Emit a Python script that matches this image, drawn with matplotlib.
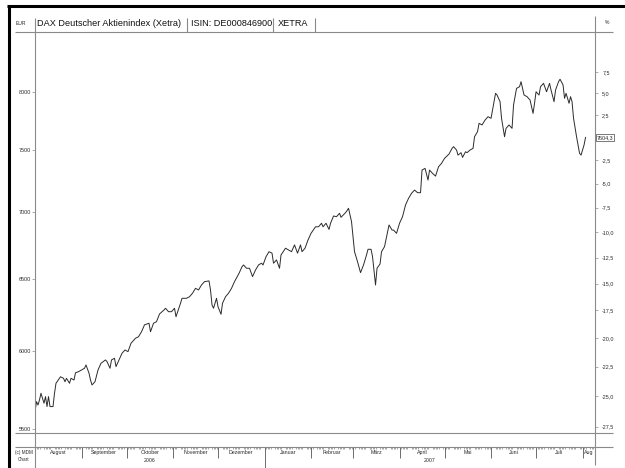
import datetime as dt

import numpy as np
import matplotlib
matplotlib.use("Agg")
import matplotlib.pyplot as plt
import matplotlib.transforms as mtransforms
from matplotlib.lines import Line2D
from matplotlib.ticker import NullLocator

plt.rcParams["font.family"] = ["Liberation Sans", "DejaVu Sans"]

# ---- data ----
START = dt.date(2006, 8, 1)          # day 0 of the x axis
LAST_CLOSE = 7604.3

DAYS_AUG_NOV = [0, 1, 2, 3, 4, 6, 7, 8, 9, 10, 12, 13, 14, 17, 19, 20, 21, 23, 24, 26,
                27, 29, 31, 33, 34, 36, 37, 38, 40, 42, 44, 47, 48, 50, 51, 53, 54, 56, 58, 60,
                62, 64, 67, 69, 71, 73, 76, 77, 79, 81, 83]
CLOSE_AUG_NOV = [5606, 5669, 5648, 5680, 5722, 5659, 5701, 5638, 5701, 5638,
                 5638, 5722, 5786, 5828, 5818, 5796, 5818, 5786, 5818, 5807,
                 5854, 5861, 5872, 5883, 5905, 5851, 5807, 5775, 5796, 5872,
                 5916, 5938, 5927, 5883, 5938, 5949, 5894, 5938, 5982, 6004,
                 5993, 6049, 6083, 6093, 6127, 6174, 6185, 6127, 6185, 6196, 6249]

DAYS_NOV_DEC = [86, 87, 89, 91, 93, 94, 97, 98, 101, 103, 105, 107, 109, 111, 113, 116, 117, 118, 119, 121,
                122, 124, 125, 127, 129, 131, 133, 136, 138, 139, 141, 143, 145, 147, 149, 151, 152, 154, 156]
CLOSE_NOV_DEC = [6277, 6289, 6265, 6265, 6289, 6230, 6324, 6359, 6359, 6370,
                 6395, 6430, 6418, 6454, 6478, 6483, 6418, 6312, 6289, 6359,
                 6300, 6247, 6324, 6370, 6395, 6430, 6478, 6538, 6586, 6599,
                 6575, 6575, 6514, 6562, 6599, 6612, 6599, 6660, 6697]

DAYS_JAN_MAR = [158, 159, 161, 163, 164, 167, 169, 171, 173, 175, 177, 178, 180, 182, 184, 187, 189, 191, 192, 194,
                196, 197, 199, 201, 203, 204, 207, 208, 209, 211, 212, 213, 215, 217, 219, 221, 222, 224, 225, 227,
                228, 230]
CLOSE_JAN_MAR = [6686, 6612, 6636, 6575, 6673, 6723, 6710, 6697, 6748, 6686,
                 6748, 6697, 6723, 6785, 6835, 6885, 6885, 6912, 6885, 6912,
                 6865, 6912, 6968, 6963, 6989, 6958, 6994, 7010, 7028, 6924,
                 6810, 6697, 6623, 6543, 6599, 6673, 6715, 6715, 6660, 6454,
                 6575, 6606]

DAYS_MAR_MAY = [231, 233, 236, 238, 239, 241, 243, 245, 247, 249, 251, 253, 255, 257, 258, 260, 262, 263, 265, 267,
                269, 271, 273, 276, 278, 279, 281, 282, 284, 285, 287, 288, 290, 292, 293, 295, 296]
CLOSE_MAR_MAY = [6697, 6735, 6899, 6860, 6860, 6835, 6912, 6963, 7054, 7106,
                 7146, 7172, 7151, 7151, 7333, 7347, 7252, 7333, 7306, 7284,
                 7360, 7388, 7429, 7465, 7512, 7526, 7498, 7456, 7476, 7437,
                 7484, 7476, 7498, 7512, 7610, 7653, 7724]

DAYS_MAY_AUG = [298, 300, 302, 304, 306, 307, 308, 310, 311, 313, 314, 316, 318, 319, 321, 323, 324, 326, 328, 330,
                331, 332, 333, 334, 336, 337, 339, 341, 343, 344, 346, 347, 349, 350, 352, 353, 354, 356, 357, 358,
                359, 361, 363, 364, 366, 367]
CLOSE_MAY_AUG = [7710, 7752, 7781, 7767, 7912, 7986, 7971, 7912, 7767, 7610,
                 7681, 7710, 7681, 7883, 8030, 8045, 8090, 7971, 7956, 7927,
                 7868, 7810, 7898, 8000, 7971, 8045, 8075, 8000, 8075, 8015,
                 7912, 8015, 8090, 8112, 8060, 7942, 7986, 7898, 7956, 7912,
                 7767, 7610, 7471, 7456, 7540, LAST_CLOSE]

PRICE_TICKS = [5500, 6000, 6500, 7000, 7500, 8000]
PCT_TICKS = [7.5, 5.0, 2.5, -2.5, -5.0, -7.5, -10.0, -12.5, -15.0, -17.5,
             -20.0, -22.5, -25.0, -27.5]
MONTHS = ["August", "September", "Oktober", "November", "Dezember", "Januar",
          "Februar", "M\u00e4rz", "April", "Mai", "Juni", "Juli", "Aug"]
YEARS = ["2006", "2007"]

TITLE = "DAX Deutscher Aktienindex (Xetra)"
ISIN = "ISIN: DE000846900"
EXCHANGE = "XETRA"

# ---- layout (pixels of the 625x468 picture) ----
W, H = 625, 468
X0, X1 = 35, 595          # left / right axis lines
Y_TOP, Y_BOT = 31.7, 433.3
Y_BAND = 446.7
YLIM = (5473, 8552)
XLIM = (0, 373.3)
GREY = "#8a8a8a"
TXT = "#2a2a2a"


def fx(x):
    return x / W


def fy(y):
    return 1 - y / H


def fig_line(fig, xs, ys, color=GREY, lw=0.8):
    fig.add_artist(Line2D([fx(x) for x in xs], [fy(y) for y in ys],
                          transform=fig.transFigure, color=color, lw=lw,
                          solid_capstyle="butt"))


days = DAYS_AUG_NOV + DAYS_NOV_DEC + DAYS_JAN_MAR + DAYS_MAR_MAY + DAYS_MAY_AUG
close = CLOSE_AUG_NOV + CLOSE_NOV_DEC + CLOSE_JAN_MAR + CLOSE_MAR_MAY + CLOSE_MAY_AUG

fig = plt.figure(figsize=(W / 100, H / 100), dpi=100)
fig.patch.set_facecolor("white")

# main price panel
ax = fig.add_axes([fx(X0), fy(Y_BOT), fx(X1) - fx(X0), fy(Y_TOP) - fy(Y_BOT)])
ax.plot(days, close, color="#2b2b2b", lw=0.7)
ax.set_yscale("log")
ax.set_ylim(*YLIM)
ax.set_xlim(*XLIM)
ax.set_yticks(PRICE_TICKS)
ax.set_yticklabels([str(t) for t in PRICE_TICKS])
ax.yaxis.set_minor_locator(NullLocator())
ax.set_xticks([])
ax.tick_params(axis="y", direction="out", length=2, width=0.5, pad=0.6,
               labelsize=3.9, colors=GREY, labelcolor=TXT)
for side in ["top", "bottom"]:
    ax.spines[side].set_visible(False)
for side in ["left", "right"]:
    ax.spines[side].set_color(GREY)
    ax.spines[side].set_linewidth(0.8)

# percent axis relative to the last close
axr = ax.twinx()
axr.set_yscale("log")
axr.set_ylim(*YLIM)
axr.set_yticks([LAST_CLOSE * (1 + p / 100) for p in PCT_TICKS])
axr.set_yticklabels([f"{p:.1f}".replace(".", ",") for p in PCT_TICKS])
axr.yaxis.set_minor_locator(NullLocator())
axr.tick_params(axis="y", direction="out", length=2, width=0.5, pad=3.2,
                labelsize=3.9, colors=GREY, labelcolor=TXT)
for side in axr.spines:
    axr.spines[side].set_visible(False)
trans = mtransforms.blended_transform_factory(axr.transAxes, axr.transData)
axr.text(1.003, LAST_CLOSE, f"{LAST_CLOSE:.1f}".replace(".", ","), transform=trans,
         ha="left", va="center", fontsize=3.9, color=TXT, clip_on=False,
         bbox=dict(boxstyle="square,pad=0.2", fc="white", ec="#444", lw=0.5))

# month / year band
band = fig.add_axes([fx(X0), fy(H), fx(X1) - fx(X0), fy(Y_BAND) - fy(H)])
band.set_xlim(*XLIM)
band.set_ylim(0, 1)
band.axis("off")

month_dates = [dt.date(2006 + (7 + i) // 12, (7 + i) % 12 + 1, 1) for i in range(len(MONTHS))]
month_days = [(d - START).days for d in month_dates]
for d, md in zip(month_dates, month_days):
    if md <= XLIM[0]:
        continue
    lo = 0.0 if d.month == 1 else 0.455
    band.vlines(md, lo, 1, color="#555555", lw=0.6)

bounds = month_days + [XLIM[1]]
for i, name in enumerate(MONTHS):
    if i == len(MONTHS) - 1:
        band.text(bounds[i] + 1, 0.71, name, ha="left", va="center",
                  fontsize=3.8, color=TXT, clip_on=True)
    else:
        band.text((bounds[i] + bounds[i + 1]) / 2, 0.71, name, ha="center",
                  va="center", fontsize=3.8, color=TXT)

trade_days = [k for k in range(int(XLIM[1]) + 1)
              if (START + dt.timedelta(days=k)).weekday() < 5]
band.vlines(trade_days, 0.9, 1, color="#666666", lw=0.4)

jan = month_days[MONTHS.index("Januar")]
year_spans = [(XLIM[0], jan), (jan, XLIM[1])]
for label, (a, b) in zip(YEARS, year_spans):
    band.text((a + b) / 2, 0.33, label, ha="center", va="center",
              fontsize=3.8, color=TXT)

# frame lines around the panels
fig_line(fig, [15, 613], [Y_TOP, Y_TOP])
fig_line(fig, [15, 613], [Y_BOT, Y_BOT])
fig_line(fig, [15, 613], [Y_BAND, Y_BAND])
fig_line(fig, [X0, X0], [18, Y_TOP])
fig_line(fig, [X0, X0], [Y_BOT, H])
fig_line(fig, [X1, X1], [16, Y_TOP])
fig_line(fig, [X1, X1], [Y_BOT, 465])
for xs in [186.7, 272.7, 315]:
    fig_line(fig, [xs, xs], [18, Y_TOP])

# thick outer border (top and left)
fig_line(fig, [7, W], [6, 6], color="black", lw=2.2)
fig_line(fig, [9, 9], [5, H], color="black", lw=2.2)

# header texts
fig.text(fx(16), fy(23.5), "EUR", fontsize=3.6, color=TXT, va="center")
fig.text(fx(37.3), fy(23.5), TITLE, fontsize=6.6, color="#111111", va="center")
fig.text(fx(190.7), fy(23.5), ISIN, fontsize=6.6, color="#111111", va="center")
fig.text(fx(277.3), fy(23.5), EXCHANGE, fontsize=6.6, color="#111111", va="center")
fig.text(fx(605), fy(22), "%", fontsize=3.6, color=TXT, va="center")

fig.text(fx(24), fy(452.5), "(c) MDM", fontsize=3.3, color=TXT, ha="center", va="center")
fig.text(fx(24), fy(459.5), "Chart", fontsize=3.3, color=TXT, ha="center", va="center")

fig.savefig("out.png", dpi=100)
